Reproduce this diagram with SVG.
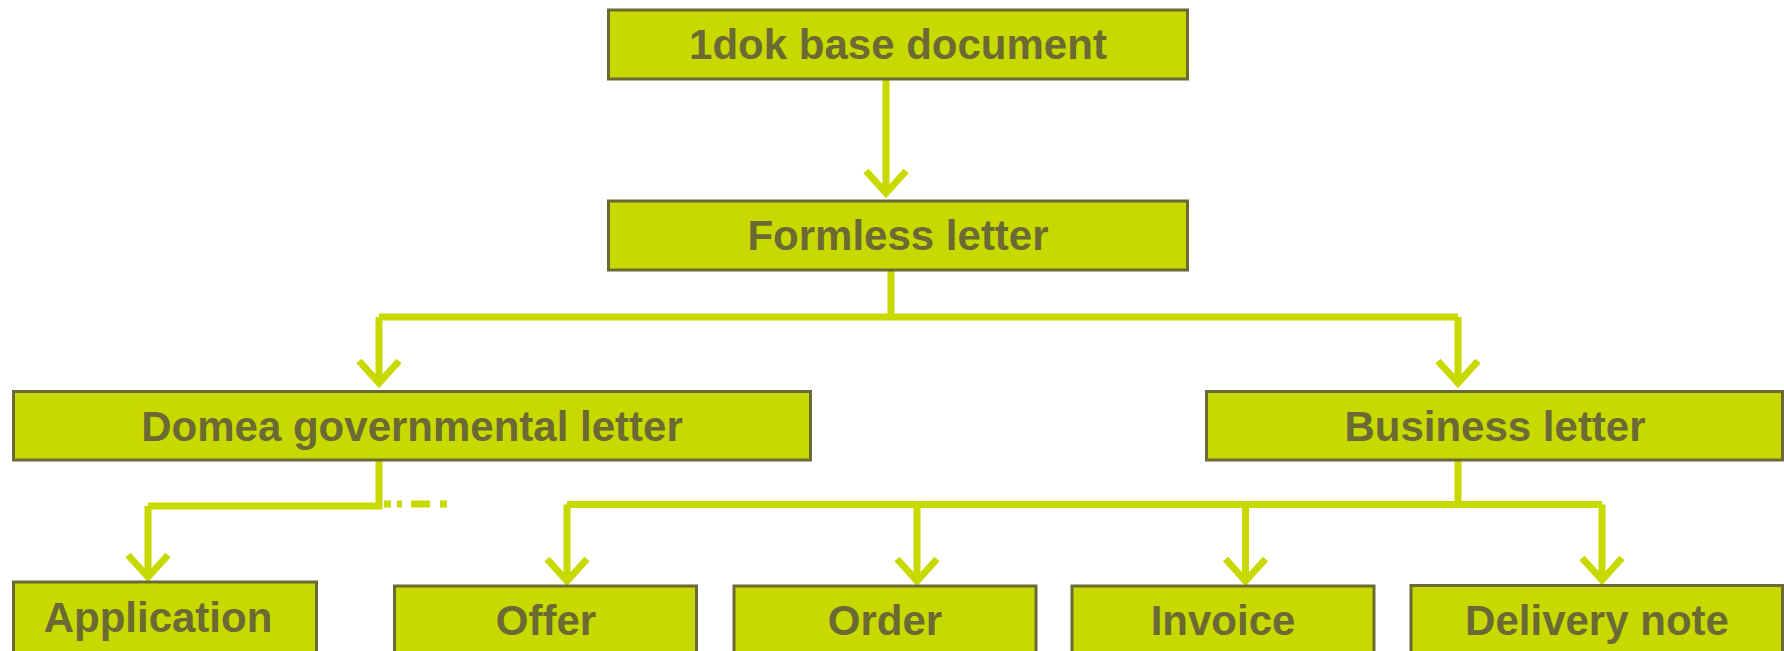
<svg xmlns="http://www.w3.org/2000/svg" width="1784" height="651" viewBox="0 0 1784 651">
<style>
.box{fill:#c8d900;stroke:#6b6a35;stroke-width:3}
.lbl{font-family:"Liberation Sans",Arial,sans-serif;font-weight:bold;font-size:42px;fill:#6b6a35;text-anchor:middle}
.con{fill:none;stroke:#c8d900;stroke-width:7;stroke-linejoin:miter}
.arr{fill:none;stroke:#c8d900;stroke-width:7;marker-end:url(#ah)}
</style>
<defs>
<marker id="ah" markerUnits="userSpaceOnUse" viewBox="-35 -30 40 60" markerWidth="40" markerHeight="60" refX="0" refY="0" orient="auto" overflow="visible">
<path d="M -23 -20 L -1 0 L -23 20" fill="none" stroke="#c8d900" stroke-width="7" stroke-linejoin="miter"/>
</marker>
</defs>
<rect width="1784" height="651" fill="#ffffff"/>
<g id="connectors">
<path class="arr" d="M 886 80 L 886 194"/>
<path class="con" d="M 891 270 L 891 317"/>
<path class="con" d="M 379 317 L 1458 317"/>
<path class="arr" d="M 379 317 L 379 384"/>
<path class="arr" d="M 1458 317 L 1458 384"/>
<path class="con" d="M 379 461 L 379 506 L 148 506"/>
<path class="arr" d="M 148 506 L 148 578"/>
<g stroke="#c8d900" stroke-width="7" fill="none">
<line x1="384" y1="504" x2="391" y2="504"/>
<line x1="397" y1="504" x2="402" y2="504"/>
<line x1="411" y1="504" x2="430" y2="504"/>
<line x1="440" y1="504" x2="447" y2="504"/>
</g>
<path class="con" d="M 1458 461 L 1458 504.5"/>
<path class="con" d="M 567 504.5 L 1602 504.5"/>
<path class="arr" d="M 567 504.5 L 567 582"/>
<path class="arr" d="M 917 504.5 L 917 582"/>
<path class="arr" d="M 1245.5 504.5 L 1245.5 582"/>
<path class="arr" d="M 1602 504.5 L 1602 581"/>
</g>
<g id="n-base"><rect class="box" x="608.5" y="10" width="579" height="69"/><text class="lbl" x="898" y="59">1dok base document</text></g>
<g id="n-formless"><rect class="box" x="608.5" y="201" width="579" height="69"/><text class="lbl" x="898" y="250">Formless letter</text></g>
<g id="n-domea"><rect class="box" x="13.5" y="391.5" width="797" height="68.5"/><text class="lbl" x="412" y="441">Domea governmental letter</text></g>
<g id="n-business"><rect class="box" x="1206.5" y="391.5" width="576" height="68.5"/><text class="lbl" x="1495" y="441">Business letter</text></g>
<g id="n-application"><rect class="box" x="13.5" y="582" width="303" height="80"/><text class="lbl" x="158" y="632">Application</text></g>
<g id="n-offer"><rect class="box" x="394.5" y="586" width="302" height="80"/><text class="lbl" x="546" y="635">Offer</text></g>
<g id="n-order"><rect class="box" x="734" y="586" width="302" height="80"/><text class="lbl" x="885" y="635">Order</text></g>
<g id="n-invoice"><rect class="box" x="1072" y="586" width="302" height="80"/><text class="lbl" x="1223" y="635">Invoice</text></g>
<g id="n-delivery"><rect class="box" x="1411" y="585.5" width="371.5" height="80"/><text class="lbl" x="1597" y="635">Delivery note</text></g>
</svg>
